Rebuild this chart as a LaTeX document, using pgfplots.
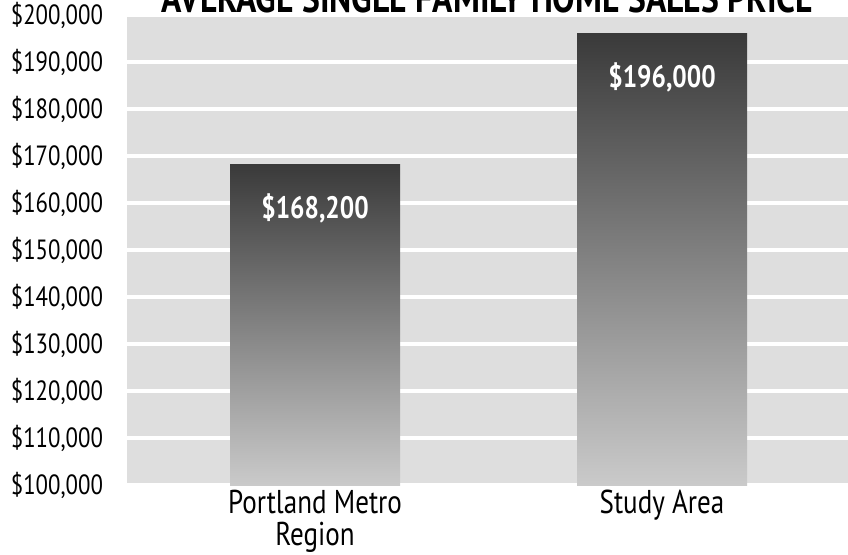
\documentclass[border=0pt]{standalone}
\usepackage{fontspec}
\setmainfont{PT Sans}[FakeStretch=0.82]
\usepackage{pgfplots}
\pgfplotsset{compat=1.18}

\definecolor{plotbg}{HTML}{DEDEDE}
\definecolor{bartop}{HTML}{3A3A3A}
\definecolor{barbot}{HTML}{CACACA}

\begin{document}
\begin{tikzpicture}
\begin{axis}[
    name=ax,
    at={(0,0)}, anchor=south west,
    scale only axis,
    width=360.5pt, height=235pt,
    xmin=-0.542, xmax=1.536,
    ymin=100000, ymax=200000,
    ytick distance=10000,
    xtick={0,1},
    xticklabels={Portland Metro\\Region, Study Area},
    x tick label style={align=center, font=\fontsize{16.5}{16}\selectfont, yshift=1pt},
    y tick label style={font=\fontsize{13.9}{14}\selectfont, xshift=-8.5pt},
    yticklabel={\$\pgfmathprintnumber{\tick}},
    /pgf/number format/.cd, 1000 sep={,}, fixed, assume math mode=true,
    /pgfplots/.cd,
    scaled y ticks=false,
    axis background/.style={fill=plotbg},
    axis line style={draw=none},
    major tick length=0pt,
    ymajorgrids,
    grid style={white, line width=1.6pt},
    ybar, bar width=0.49, bar shift=0pt,
    clip=false,
]
\addplot[draw=none, shade, top color=bartop, bottom color=barbot]
    coordinates {(0,168200)};
\addplot[draw=none, shade, top color=bartop, bottom color=barbot]
    coordinates {(1,196000)};
\node[white, font=\fontsize{15.5}{16}\selectfont\bfseries] at (axis cs:0,158800) {\$168,200};
\node[white, font=\fontsize{15.5}{16}\selectfont\bfseries] at (axis cs:1,186800) {\$196,000};
\node[anchor=base, font=\fontsize{20.5}{22}\selectfont\bfseries] at ([yshift=1.5pt]rel axis cs:0.5,1) {AVERAGE SINGLE FAMILY HOME SALES PRICE};
\end{axis}
\pgfresetboundingbox
\path[use as bounding box] (-63.5pt,-34.5pt) rectangle (360.5pt,242.5pt);
\end{tikzpicture}
\end{document}
